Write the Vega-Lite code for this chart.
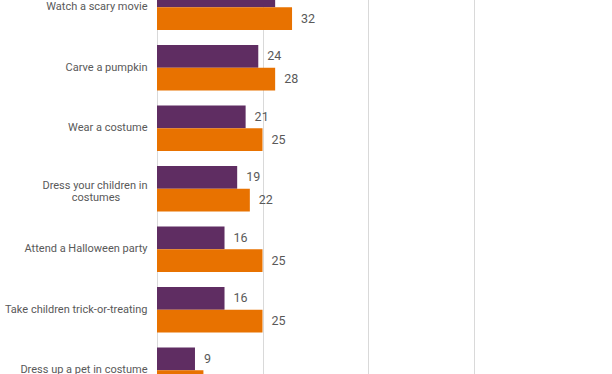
{
  "$schema": "https://vega.github.io/schema/vega-lite/v6.json",
  "autosize": "none",
  "padding": {"left": 157, "top": -23, "right": 0, "bottom": 0},
  "width": 422,
  "height": 423.5,
  "background": "white",
  "config": {
    "view": {"stroke": null},
    "font": "Roboto",
    "axis": {"labelFont": "Roboto", "labelColor": "#595959"}
  },
  "data": {
    "values": [
      {"activity": "Watch a scary movie", "group": "A", "value": 28},
      {"activity": "Watch a scary movie", "group": "B", "value": 32},
      {"activity": "Carve a pumpkin", "group": "A", "value": 24},
      {"activity": "Carve a pumpkin", "group": "B", "value": 28},
      {"activity": "Wear a costume", "group": "A", "value": 21},
      {"activity": "Wear a costume", "group": "B", "value": 25},
      {"activity": "Dress your children in costumes", "group": "A", "value": 19},
      {"activity": "Dress your children in costumes", "group": "B", "value": 22},
      {"activity": "Attend a Halloween party", "group": "A", "value": 16},
      {"activity": "Attend a Halloween party", "group": "B", "value": 25},
      {"activity": "Take children trick-or-treating", "group": "A", "value": 16},
      {"activity": "Take children trick-or-treating", "group": "B", "value": 25},
      {"activity": "Dress up a pet in costume", "group": "A", "value": 9},
      {"activity": "Dress up a pet in costume", "group": "B", "value": 11}
    ]
  },
  "encoding": {
    "y": {
      "field": "activity",
      "type": "nominal",
      "sort": null,
      "scale": {"paddingInner": 0.25, "paddingOuter": 0.125},
      "axis": {
        "title": null,
        "domain": false,
        "ticks": false,
        "labelPadding": 10,
        "labelFontSize": 11,
        "labelLineHeight": 12,
        "labelLimit": 200,
        "labelOffset": {"condition": {"test": "datum.value == 'Dress your children in costumes'", "value": -3}, "value": 0},
        "labelExpr": "datum.value == 'Dress your children in costumes' ? ['Dress your children in', 'costumes\u00a0\u00a0\u00a0\u00a0\u00a0\u00a0\u00a0\u00a0\u00a0\u00a0\u200b'] : datum.label"
      }
    },
    "yOffset": {"field": "group", "type": "nominal", "scale": {"paddingInner": 0, "paddingOuter": 0}},
    "x": {
      "field": "value",
      "type": "quantitative",
      "scale": {"domain": [0, 100]},
      "axis": {
        "title": null,
        "values": [0, 25, 50, 75, 100],
        "grid": true,
        "gridColor": "#d9d9d9",
        "domain": false,
        "ticks": false,
        "labels": false
      }
    }
  },
  "layer": [
    {
      "mark": {"type": "bar"},
      "encoding": {
        "color": {
          "field": "group",
          "type": "nominal",
          "scale": {"domain": ["A", "B"], "range": ["#5f2d62", "#e87200"]},
          "legend": null
        }
      }
    },
    {
      "mark": {"type": "text", "align": "left", "baseline": "middle", "dx": 9, "fontSize": 12.5, "color": "#595959", "font": "Roboto"},
      "encoding": {"text": {"field": "value", "type": "quantitative"}}
    }
  ]
}
